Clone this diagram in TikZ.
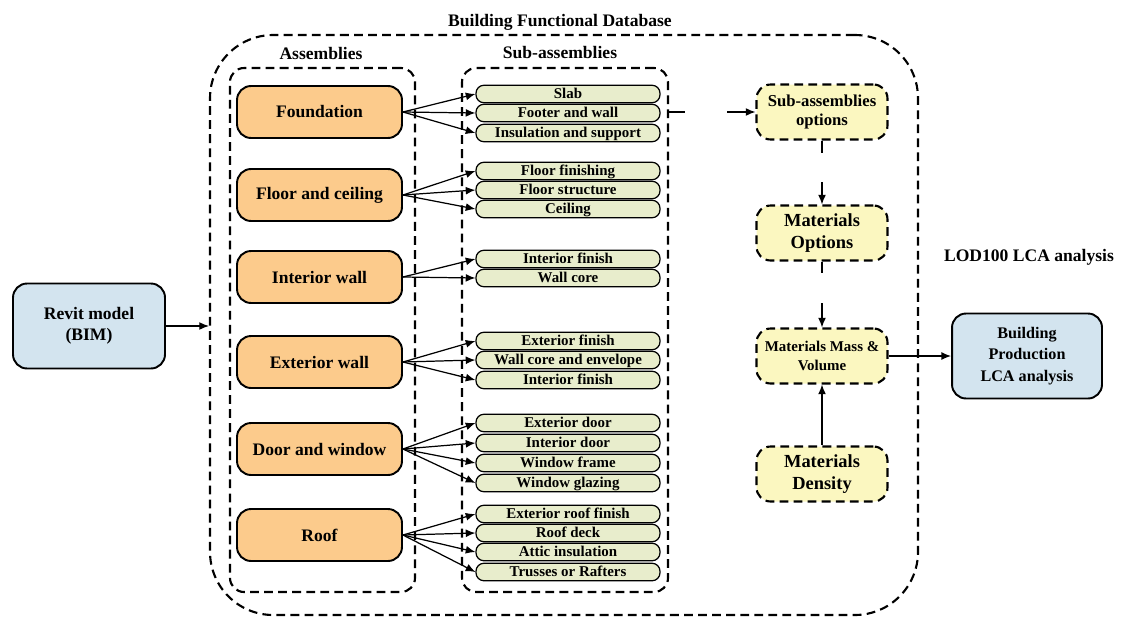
\documentclass[tikz,border=0pt]{standalone}
\usepackage{fontspec}
\setmainfont{Liberation Serif}
\usetikzlibrary{positioning,fit,arrows.meta}

\definecolor{asmfill}{HTML}{FCCB8C}
\definecolor{subfill}{HTML}{E8EDCC}
\definecolor{optfill}{HTML}{FBF7C0}
\definecolor{bimfill}{HTML}{D3E4EF}

\begin{document}
\begin{tikzpicture}[x=0.02cm,y=-0.02cm,font=\bfseries,
  asm/.style={draw,line width=1.1pt,rounded corners=8pt,fill=asmfill,minimum width=3.3cm,minimum height=1.04cm},
  sub/.style={draw,line width=0.7pt,rounded corners=4.5pt,fill=subfill,minimum width=3.68cm,minimum height=0.35cm,
    inner sep=0.5pt,text height=6.2pt,text depth=0.8pt,font=\bfseries\fontsize{8.5}{9}\selectfont},
  grp/.style={draw,dashed,line width=1.2pt,dash pattern=on 5pt off 3pt,inner sep=0pt},
  opt/.style={grp,fill=optfill,rounded corners=8pt,align=center,minimum width=2.62cm,minimum height=1.1cm},
  bim/.style={draw,line width=1.1pt,rounded corners=8pt,fill=bimfill,align=center},
  arr/.style={-{Latex[length=5.5pt,width=4.5pt]},line width=0.7pt}]
  \useasboundingbox (0,0) rectangle (1124,619);

  % outer frame and groups
  \node[grp,rounded corners=36pt,fit={(210,35) (918,615)}] (db) {};
  \node (dbtitle) at (560,22) {Building Functional Database};
  \node[grp,rounded corners=8pt,fit={(230,68) (415,592)}] (asmgrp) {};
  \node[grp,rounded corners=8pt,fit={(462,68) (668,592)}] (subgrp) {};
  \node (asmlbl) at (321,53) {Assemblies};
  \node (sublbl) at (560,53) {Sub-assemblies};

  \foreach \n/\y/\t in {fnd/112/Foundation, flr/195/Floor and ceiling, iwl/277/Interior wall,
    ewl/362/Exterior wall, dw/449/Door and window, rf/535/Roof}
  \node[asm] (\n) at (319.5,\y) {\t};

  \foreach \n/\y/\t in {slab/94/Slab, ftr/113/Footer and wall, ins/133/Insulation and support,
    ffin/171/Floor finishing, fstr/190/Floor structure, ceil/209/Ceiling,
    ifin/259/Interior finish, wcore/278/Wall core,
    efin/341/Exterior finish, wenv/360/Wall core and envelope, ifinb/380/Interior finish,
    edoor/423/Exterior door, idoor/443/Interior door, wfr/463/Window frame, wgl/483/Window glazing,
    erf/514/Exterior roof finish, rdeck/533/Roof deck, attic/552/Attic insulation, truss/572/Trusses or Rafters}
  \node[sub] (\n) at (568,\y) {\t};

  \foreach \s/\t in {fnd/slab, fnd/ftr, fnd/ins, flr/ffin, flr/fstr, flr/ceil, iwl/ifin, iwl/wcore,
    ewl/efin, ewl/wenv, ewl/ifinb, dw/edoor, dw/idoor, dw/wfr, dw/wgl,
    rf/erf, rf/rdeck, rf/attic, rf/truss}
    \draw [arr] (\s.east) -- (\t.west);

  % right column
  \node[opt,font=\bfseries\fontsize{9.5}{11.3}\selectfont] (subopt) at (822,112) {Sub-assemblies\\options};
  \node[opt,font=\bfseries\fontsize{10.5}{12.5}\selectfont] (matopt) at (822,233) {Materials\\Options};
  \node[opt,font=\bfseries\fontsize{8.5}{11}\selectfont] (mass) at (822,356) {Materials Mass \&\\Volume};
  \node[opt,font=\bfseries\fontsize{10.5}{12.5}\selectfont] (dens) at (822,474) {Materials\\Density};
  \node[bim,minimum width=3.04cm,minimum height=1.7cm] (revit) at (89,326) {Revit model\\(BIM)};
  \node[bim,minimum width=3.0cm,minimum height=1.7cm,font=\bfseries\fontsize{9.2}{12.2}\selectfont] (prod) at (1027,356) {Building\\Production\\LCA analysis};
  \node (lod) at (1029,257) {LOD100 LCA analysis};

  \coordinate (c1) at (685,112);
  \coordinate (c2) at (727,112);
  \coordinate (c3) at (822,153);
  \coordinate (c4) at (822,182);
  \coordinate (c5) at (822,273);
  \coordinate (c6) at (822,303);
  \draw [line width=0.7pt] (subgrp.east |- c1) -- (c1);
  \draw [arr] (c2) -- (subopt.west);
  \draw [line width=0.7pt] (subopt.south) -- (c3);
  \draw [arr] (c4) -- (matopt.north);
  \draw [line width=0.7pt] (matopt.south) -- (c5);
  \draw [arr] (c6) -- (mass.north);
  \draw [arr] (dens) -- (mass);
  \draw [arr] (mass) -- (prod);
  \draw [arr] (revit) -- (revit -| db.west);
\end{tikzpicture}
\end{document}
